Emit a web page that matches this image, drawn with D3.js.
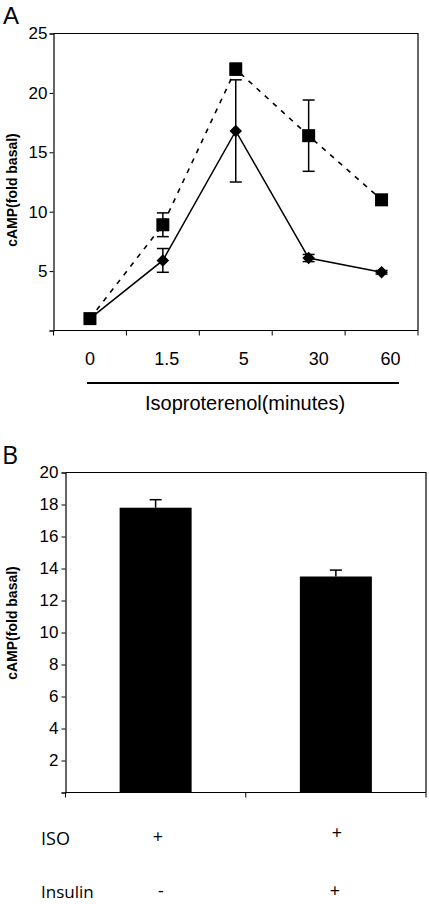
<!DOCTYPE html>
<html><head><meta charset="utf-8">
<script src="https://cdn.jsdelivr.net/npm/d3@7"></script>
<style>body{margin:0;background:#fff}svg{display:block}</style>
</head><body>
<script>
// ---- Data ----
const timeLabels = ["0", "1.5", "5", "30", "60"];
const isoMean = [1.0, 8.9, 22.0, 16.4, 11.0];          // squares, dashed
const isoErr = [0.2, 1.0, 0.5, 3.0, 0.3];
const insMean = [1.0, 5.9, 16.8, 6.1, 4.9];            // diamonds, solid
const insErr = [0.2, 1.0, 4.3, 0.3, 0.15];
const yTicksA = [5, 10, 15, 20, 25];

const barGroups = ["g1", "g2"];
const barMean = [17.8, 13.5];
const barErr = [0.5, 0.4];
const yTicksB = [2, 4, 6, 8, 10, 12, 14, 16, 18, 20];
const isoRow = ["+", "+"];
const insulinRow = ["-", "+"];

const W = 429, H = 904;
const svg = d3.select("body").append("svg").attr("width", W).attr("height", H);
const sans = "'Liberation Sans', Arial, sans-serif";
const ui = "'Open Sans', 'Noto Sans', sans-serif";

// ---- Panel A ----
const A = {l: 53.5, r: 418, t: 33.5, b: 330.5};
const xA = d3.scaleBand().domain(timeLabels).range([A.l, A.r]);
const yA = d3.scaleLinear().domain([0, 25]).range([A.b, A.t]);
const gA = svg.append("g");

gA.append("text").attr("x", 3).attr("y", 24).attr("font-family", sans).attr("font-size", 24).text("A");
// frame
gA.append("path").attr("d", `M${A.l},${A.t}H${A.r}V${A.b}`).attr("fill", "none").attr("stroke", "#000").attr("stroke-width", 1.2);
// y axis
const yAxA = gA.append("g").attr("transform", `translate(${A.l},0)`)
  .call(d3.axisLeft(yA).tickValues([0].concat(yTicksA)).tickSize(4).tickPadding(2).tickFormat(d => d === 0 ? "" : d));
// x axis (ticks at band boundaries)
const xAxA = gA.append("g").attr("transform", `translate(0,${A.b})`);
xAxA.append("line").attr("x1", A.l).attr("x2", A.r).attr("stroke", "#000").attr("stroke-width", 1.2);
xAxA.selectAll("line.t").data(timeLabels.concat(["end"])).join("line").attr("class", "t")
  .attr("x1", (d, i) => i < timeLabels.length ? xA(d) : A.r)
  .attr("x2", (d, i) => i < timeLabels.length ? xA(d) : A.r)
  .attr("y1", 0).attr("y2", 5).attr("stroke", "#000");
xAxA.selectAll("text").data(timeLabels).join("text")
  .attr("x", (d, i) => xA(d) + xA.bandwidth() / 2 + [0, 4, 8, 10, 9][i])
  .attr("y", 34).attr("text-anchor", "middle").attr("font-family", sans).attr("font-size", 18).text(d => d);
[yAxA].forEach(ax => {
  ax.select(".domain").attr("stroke-width", 1.2);
  ax.selectAll("text").attr("font-family", sans).attr("font-size", 17).attr("fill", "#000");
});
// underline + title
gA.append("line").attr("x1", 87).attr("x2", 399).attr("y1", 383).attr("y2", 383).attr("stroke", "#000").attr("stroke-width", 2);
gA.append("text").attr("x", 245).attr("y", 410).attr("text-anchor", "middle").attr("font-family", sans).attr("font-size", 20).text("Isoproterenol(minutes)");
// y label
gA.append("text").attr("transform", "translate(17,190) rotate(-90)").attr("text-anchor", "middle")
  .attr("font-family", sans).attr("font-weight", "bold").attr("font-size", 14).text("cAMP(fold basal)");

const cx = d => xA(d) + xA.bandwidth() / 2;
const line = d3.line().x(d => cx(d.t)).y(d => yA(d.v));
const isoPts = timeLabels.map((t, i) => ({t, v: isoMean[i], e: isoErr[i]}));
const insPts = timeLabels.map((t, i) => ({t, v: insMean[i], e: insErr[i]}));

gA.append("path").datum(isoPts).attr("d", line).attr("fill", "none").attr("stroke", "#000").attr("stroke-width", 1.6).attr("stroke-dasharray", "5,6");
gA.append("path").datum(insPts).attr("d", line).attr("fill", "none").attr("stroke", "#000").attr("stroke-width", 1.5);

function errBars(pts) {
  const g = gA.append("g").attr("stroke", "#000").attr("stroke-width", 1.5);
  pts.forEach(p => {
    const x = cx(p.t), y1 = yA(p.v + p.e), y2 = yA(p.v - p.e);
    g.append("line").attr("x1", x).attr("x2", x).attr("y1", y1).attr("y2", y2);
    g.append("line").attr("x1", x - 6).attr("x2", x + 6).attr("y1", y1).attr("y2", y1);
    g.append("line").attr("x1", x - 6).attr("x2", x + 6).attr("y1", y2).attr("y2", y2);
  });
}
errBars(insPts);
errBars(isoPts);
gA.selectAll("path.dia").data(insPts).join("path").attr("class", "dia")
  .attr("d", d3.symbol(d3.symbolDiamond2, 100)())
  .attr("transform", d => `translate(${cx(d.t)},${yA(d.v)})`).attr("fill", "#000");
gA.selectAll("rect.sq").data(isoPts).join("rect").attr("class", "sq")
  .attr("x", d => cx(d.t) - 6.5).attr("y", d => yA(d.v) - 6.5).attr("width", 13).attr("height", 13).attr("fill", "#000");

// ---- Panel B ----
const B = {l: 65.5, r: 426, t: 472.5, b: 792.5};
const xBand = d3.scaleBand().domain(barGroups).range([B.l, B.r]);
const yB = d3.scaleLinear().domain([0, 20]).range([B.b, B.t]);
const gB = svg.append("g");
gB.append("text").attr("x", 2).attr("y", 464).attr("font-family", ui).attr("font-size", 25).text("B");
gB.append("path").attr("d", `M${B.l},${B.t}H${B.r}V${B.b}`).attr("fill", "none").attr("stroke", "#000").attr("stroke-width", 1.2);
const yAxB = gB.append("g").attr("transform", `translate(${B.l},0)`)
  .call(d3.axisLeft(yB).tickValues([0].concat(yTicksB)).tickSize(4).tickPadding(3).tickFormat(d => d === 0 ? "" : d));
yAxB.select(".domain").attr("stroke-width", 1.2);
yAxB.selectAll("text").attr("font-family", sans).attr("font-size", 17).attr("fill", "#000");
const xAxB = gB.append("g").attr("transform", `translate(0,${B.b})`);
xAxB.append("line").attr("x1", B.l).attr("x2", B.r).attr("stroke", "#000").attr("stroke-width", 1.2);
xAxB.selectAll("line.t").data(barGroups.concat(["end"])).join("line").attr("class", "t")
  .attr("x1", (d, i) => i < barGroups.length ? xBand(d) : B.r)
  .attr("x2", (d, i) => i < barGroups.length ? xBand(d) : B.r)
  .attr("y1", 0).attr("y2", 5).attr("stroke", "#000");

gB.selectAll("rect.bar").data(barGroups).join("rect").attr("class", "bar")
  .attr("x", d => xBand(d) + xBand.bandwidth() / 2 - 36)
  .attr("width", 72)
  .attr("y", (d, i) => yB(barMean[i])).attr("height", (d, i) => B.b - yB(barMean[i])).attr("fill", "#000");
const eg = gB.append("g").attr("stroke", "#000").attr("stroke-width", 1.5);
barGroups.forEach((d, i) => {
  const x = xBand(d) + xBand.bandwidth() / 2;
  const yt = yB(barMean[i] + barErr[i]);
  eg.append("line").attr("x1", x).attr("x2", x).attr("y1", yt).attr("y2", yB(barMean[i]));
  eg.append("line").attr("x1", x - 6).attr("x2", x + 6).attr("y1", yt).attr("y2", yt);
});
gB.append("text").attr("transform", "translate(17,623) rotate(-90)").attr("text-anchor", "middle")
  .attr("font-family", sans).attr("font-weight", "bold").attr("font-size", 14).text("cAMP(fold basal)");

// treatment rows
gB.append("text").attr("x", 41).attr("y", 845).attr("font-family", ui).attr("font-size", 18).text("ISO");
gB.append("text").attr("x", 41).attr("y", 898).attr("font-family", ui).attr("font-size", 17).text("Insulin");
const rowX = [158, 337];
gB.selectAll("text.iso").data(isoRow).join("text").attr("class", "iso")
  .attr("x", (d, i) => rowX[i]).attr("y", (d, i) => [843, 839][i]).attr("text-anchor", "middle")
  .attr("font-family", ui).attr("font-size", 18).text(d => d);
gB.selectAll("text.ins").data(insulinRow).join("text").attr("class", "ins")
  .attr("x", (d, i) => [161, 335][i]).attr("y", 897).attr("text-anchor", "middle")
  .attr("font-family", ui).attr("font-size", 18).text(d => d);
</script>
</body></html>
